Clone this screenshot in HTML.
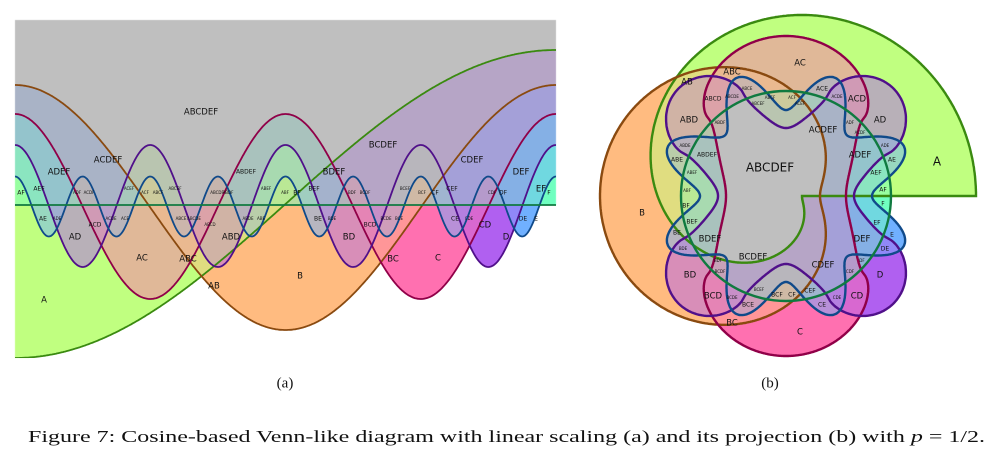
<!DOCTYPE html>
<html><head><meta charset="utf-8">
<style>
html,body{margin:0;padding:0;background:#fff;}
body{width:1000px;height:462px;overflow:hidden;position:relative;}
svg,canvas{position:absolute;left:0;top:0;}
text{font-family:"DejaVu Sans","Liberation Sans",sans-serif;text-anchor:middle;dominant-baseline:middle;fill:#111;}
.L{font-size:12px}.m{font-size:8.5px}.s{font-size:6px}.t{font-size:4px}
.cap{font-family:"Liberation Serif",serif;font-size:17px;text-anchor:start;dominant-baseline:auto}
.sub{font-family:"Liberation Serif",serif;font-size:15px}
</style></head><body>
<canvas id="cv" width="1000" height="370"></canvas>
<svg width="1000" height="462" viewBox="0 0 1000 462">
<defs><clipPath id="pa"><rect x="15" y="20" width="541" height="338"/></clipPath></defs>
<g clip-path="url(#pa)" fill="none" stroke-width="1.8">
  <path id="saA" stroke="#3a8a10"/><path id="saB" stroke="#8a4a10"/><path id="saC" stroke="#900048"/>
  <path id="saD" stroke="#50108a"/><path id="saE" stroke="#104a8a"/>
  <line x1="15" y1="205" x2="556" y2="205" stroke="#107a40"/>
</g>
<g fill="none" stroke-width="2.4">
 <path id="sbA" stroke="#3a8a10"/><path id="sbB" stroke="#8a4a10"/><path id="sbC" stroke="#900048"/>
 <path id="sbD" stroke="#50108a"/><path id="sbE" stroke="#104a8a"/>
 <circle cx="786" cy="196" r="105" stroke="#107a40"/>
</g>

<g>
<text x="201" y="112" class="m">ABCDEF</text><text x="108" y="160" class="m">ACDEF</text>
<text x="59" y="172" class="m">ADEF</text><text x="39" y="189" class="s">AEF</text><text x="21" y="193" class="s">AF</text>
<text x="383" y="145" class="m">BCDEF</text><text x="472" y="160" class="m">CDEF</text><text x="521" y="172" class="m">DEF</text>
<text x="541" y="189" class="m">EF</text><text x="549" y="193" class="s">F</text>
<text x="246" y="172" class="s">ABDEF</text><text x="334" y="172" class="m">BDEF</text>
<text x="266" y="189" class="t">ABEF</text><text x="285" y="193" class="t">ABF</text><text x="297" y="193" class="s">BF</text>
<text x="314" y="189" class="s">BEF</text><text x="129" y="189" class="t">ACEF</text><text x="145" y="193" class="t">ACF</text>
<text x="158" y="193" class="t">ABCF</text><text x="175" y="189" class="t">ABCEF</text><text x="217" y="193" class="t">ABCDF</text>
<text x="228" y="193" class="t">ABDF</text><text x="77" y="193" class="t">ADF</text><text x="89" y="193" class="t">ACDF</text>
<text x="352" y="193" class="t">BDF</text><text x="365" y="193" class="t">BCDF</text><text x="405" y="189" class="t">BCEF</text>
<text x="422" y="193" class="t">BCF</text><text x="435" y="193" class="s">CF</text><text x="452" y="189" class="s">CEF</text>
<text x="492" y="193" class="t">CDF</text><text x="503" y="193" class="s">DF</text>
<text x="43" y="219" class="s">AE</text><text x="57" y="219" class="t">ADE</text><text x="75" y="237" class="m">AD</text>
<text x="95" y="225" class="s">ACD</text><text x="111" y="219" class="t">ACDE</text><text x="125" y="219" class="t">ACE</text>
<text x="142" y="258" class="m">AC</text><text x="188" y="259" class="m">ABC</text><text x="214" y="286" class="m">AB</text>
<text x="181" y="219" class="t">ABCE</text><text x="194" y="219" class="t">ABCDE</text><text x="210" y="225" class="t">ABCD</text>
<text x="231" y="237" class="m">ABD</text><text x="248" y="219" class="t">ABDE</text><text x="261" y="219" class="t">ABE</text>
<text x="318" y="219" class="s">BE</text><text x="332" y="219" class="t">BDE</text><text x="370" y="225" class="s">BCD</text>
<text x="349" y="237" class="m">BD</text><text x="386" y="219" class="t">BCDE</text><text x="399" y="219" class="t">BCE</text>
<text x="393" y="259" class="m">BC</text><text x="300" y="276" class="m">B</text><text x="438" y="258" class="m">C</text>
<text x="455" y="219" class="s">CE</text><text x="469" y="219" class="t">CDE</text><text x="485" y="225" class="m">CD</text>
<text x="506" y="237" class="m">D</text><text x="523" y="219" class="s">DE</text><text x="536" y="219" class="s">E</text>
<text x="44" y="300" class="m">A</text>
</g>
<g>
<text x="800" y="63" class="m">AC</text><text x="732" y="72" class="m">ABC</text><text x="687" y="82" class="m">AB</text>
<text x="713" y="99" class="s">ABCD</text><text x="747" y="89" class="t">ABCE</text><text x="732" y="97" class="t">ABCDE</text>
<text x="758" y="104" class="t">ABCEF</text><text x="770" y="98" class="t">ABCF</text><text x="792" y="98" class="t">ACF</text>
<text x="822" y="89" class="s">ACE</text><text x="837" y="97" class="t">ACDE</text><text x="800" y="104" class="t">ACEF</text>
<text x="857" y="99" class="m">ACD</text><text x="689" y="120" class="m">ABD</text><text x="880" y="120" class="m">AD</text>
<text x="720" y="123" class="t">ABDF</text><text x="850" y="123" class="t">ADF</text><text x="860" y="133" class="t">ACDF</text>
<text x="823" y="130" class="m">ACDEF</text><text x="685" y="146" class="t">ABDE</text><text x="885" y="146" class="t">ADE</text>
<text x="707" y="155" class="s">ABDEF</text><text x="860" y="155" class="m">ADEF</text>
<text x="770" y="168" class="L">ABCDEF</text>
<text x="677" y="160" class="s">ABE</text><text x="892" y="160" class="s">AE</text>
<text x="692" y="173" class="t">ABEF</text><text x="876" y="173" class="s">AEF</text>
<text x="687" y="191" class="t">ABF</text><text x="883" y="190" class="s">AF</text>
<text x="686" y="206" class="s">BF</text><text x="883" y="204" class="s">F</text>
<text x="937" y="162" class="L">A</text><text x="642" y="213" class="m">B</text>
<text x="692" y="222" class="s">BEF</text><text x="877" y="223" class="s">EF</text>
<text x="677" y="233" class="s">BE</text><text x="892" y="235" class="s">E</text>
<text x="710" y="239" class="m">BDEF</text><text x="862" y="239" class="m">DEF</text>
<text x="683" y="249" class="t">BDE</text><text x="885" y="249" class="s">DE</text>
<text x="753" y="257" class="m">BCDEF</text><text x="823" y="265" class="m">CDEF</text>
<text x="718" y="261" class="t">BDF</text><text x="862" y="261" class="t">DF</text>
<text x="720" y="272" class="t">BCDF</text><text x="850" y="272" class="t">CDF</text>
<text x="690" y="275" class="m">BD</text><text x="880" y="275" class="m">D</text>
<text x="759" y="290" class="t">BCEF</text><text x="810" y="291" class="s">CEF</text>
<text x="713" y="296" class="m">BCD</text><text x="857" y="296" class="m">CD</text>
<text x="732" y="298" class="t">BCDE</text><text x="777" y="295" class="s">BCF</text><text x="792" y="295" class="s">CF</text>
<text x="837" y="298" class="t">CDE</text><text x="748" y="305" class="s">BCE</text><text x="822" y="305" class="s">CE</text>
<text x="732" y="323" class="m">BC</text><text x="800" y="332" class="m">C</text>
</g>
<text x="285" y="384" class="sub">(a)</text><text x="770" y="384" class="sub">(b)</text>
<text x="28" y="442" class="cap" textLength="957" lengthAdjust="spacingAndGlyphs">Figure 7: Cosine-based Venn-like diagram with linear scaling (a) and its projection (b) with <tspan font-style="italic">p</tspan> = 1/2.</text>
</svg>
<script>
(function(){
var P=Math.PI;
function set(id,d){var e=document.getElementById(id);if(e)e.setAttribute('d',d);}
function wave(f){var s='';for(var x=15;x<=556;x+=1){s+=(x==15?'M':'L')+x+','+f(x).toFixed(1);}return s;}
var K=['A','B','C','D','E'];
var fa={
 A:function(x){return 204+154*Math.cos(P*(x-15)/541);},
 B:function(x){return 207.5-122.5*Math.cos(2*P*(x-15)/541);},
 C:function(x){return 206.5-92.5*Math.cos(4*P*(x-15)/541);},
 D:function(x){return 206-61*Math.cos(8*P*(x-15)/541);},
 E:function(x){return 206.5-30*Math.cos(16*P*(x-15)/541);}
};
K.forEach(function(k){set('sa'+k,wave(fa[k]));});
function sp(c,p){return (c<0?-1:1)*Math.pow(Math.abs(c),p);}
var CX=786,CY=196;
var fb={
 A:function(t){return 190-174*Math.pow((1-Math.cos(t/2))/2,1.5);},
 B:function(t){return 110-76*Math.cos(t);},
 C:function(t){return 110-50*sp(Math.cos(2*t),0.6);},
 D:function(t){return 110-42*sp(Math.cos(4*t),0.6);},
 E:function(t){return 107-21*Math.cos(8*t);}
};
function pol(rf,n){var s='';for(var i=0;i<=n;i++){var t=2*P*i/n;var r=rf(t);
 var x=CX+r*Math.cos(t),y=CY-r*Math.sin(t);s+=(i==0?'M':'L')+x.toFixed(1)+','+y.toFixed(1);}return s+'Z';}
K.forEach(function(k){set('sb'+k,pol(fb[k],900));});
// region fill: average of member colours
var col=[[192,255,128],[255,187,128],[255,112,176],[176,96,240],[112,176,255],[112,255,192]];
var cv=document.getElementById('cv'),ctx=cv.getContext('2d');
var W=1000,H=370,img=ctx.createImageData(W,H),d=img.data;
function put(i,m){var n=0,r=0,g=0,b=0;for(var j=0;j<6;j++)if(m[j]){n++;r+=col[j][0];g+=col[j][1];b+=col[j][2];}
 if(n==0){r=g=b=255;}else{r/=n;g/=n;b/=n;if(n==6){r=g=b=191;}}
 d[i]=r;d[i+1]=g;d[i+2]=b;d[i+3]=255;}
var m=[0,0,0,0,0,0];
for(var y=0;y<H;y++)for(var x=0;x<W;x++){var i=(y*W+x)*4;
 if(x>=15&&x<556&&y>=20&&y<358){
  var yy=y+0.5,xx=x+0.5;
  m[0]=yy<fa.A(xx);m[1]=yy<fa.B(xx);m[2]=yy<fa.C(xx);m[3]=yy<fa.D(xx);m[4]=yy<fa.E(xx);m[5]=yy<205;
  put(i,m);
 } else if(x>=580){
  var dx=x+0.5-CX,dy=CY-(y+0.5),r=Math.sqrt(dx*dx+dy*dy),t=Math.atan2(dy,dx);if(t<0)t+=2*P;
  m[0]=r<fb.A(t);m[1]=r<fb.B(t);m[2]=r<fb.C(t);m[3]=r<fb.D(t);m[4]=r<fb.E(t);m[5]=r<105;
  put(i,m);
 } else {d[i]=d[i+1]=d[i+2]=d[i+3]=255;}
}
ctx.putImageData(img,0,0);
})();
</script>
</body></html>
